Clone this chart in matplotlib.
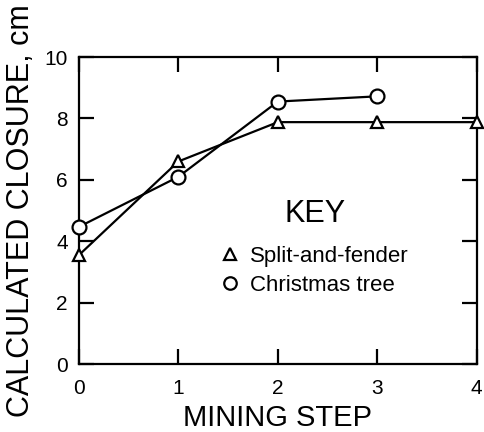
import matplotlib
matplotlib.use("Agg")
import matplotlib.pyplot as plt
from matplotlib.lines import Line2D

plt.rcParams['font.family'] = ['Liberation Sans', 'DejaVu Sans']

steps_sf = [0, 1, 2, 3, 4]
closure_sf = [3.55, 6.6, 7.88, 7.88, 7.88]
steps_ct = [0, 1, 2, 3]
closure_ct = [4.47, 6.1, 8.55, 8.72]
xticks = [0, 1, 2, 3, 4]
yticks = [0, 2, 4, 6, 8, 10]

fig = plt.figure(figsize=(4.84, 4.32), dpi=100)
ax = fig.add_axes([0.163, 0.157, 0.822, 0.711])

ax.plot(steps_sf, closure_sf, color='black', lw=1.6, marker='^', ms=9,
        mfc='white', mec='black', mew=1.6, clip_on=False, zorder=3)
ax.plot(steps_ct, closure_ct, color='black', lw=1.6, marker='o', ms=10,
        mfc='white', mec='black', mew=1.6, clip_on=False, zorder=3)

ax.set_xlim(0, 4)
ax.set_ylim(0, 10)
ax.set_xticks(xticks)
ax.set_yticks(yticks)
ax.tick_params(direction='in', length=11, width=1.6, labelsize=15,
               top=True, right=True)
ax.tick_params(axis='x', pad=11)
ax.tick_params(axis='y', pad=8)
for s in ax.spines.values():
    s.set_linewidth(1.6)

ax.set_xlabel('MINING STEP', fontsize=21, labelpad=4)
ax.set_ylabel('CALCULATED CLOSURE, cm', fontsize=22, labelpad=6)

ax.text(0.593, 0.49, 'KEY', transform=ax.transAxes, fontsize=22,
        ha='center', va='center')
handles = [
    Line2D([], [], ls='none', marker='^', ms=9, mfc='white', mec='black', mew=1.6),
    Line2D([], [], ls='none', marker='o', ms=9, mfc='white', mec='black', mew=1.6),
]
leg = ax.legend(handles, ['Split-and-fender', 'Christmas tree'],
                frameon=False, loc='center', bbox_to_anchor=(0.592, 0.303),
                fontsize=16, handlelength=0.8,
                handletextpad=0.5, labelspacing=0.35)

fig.savefig('out.png', dpi=100)
